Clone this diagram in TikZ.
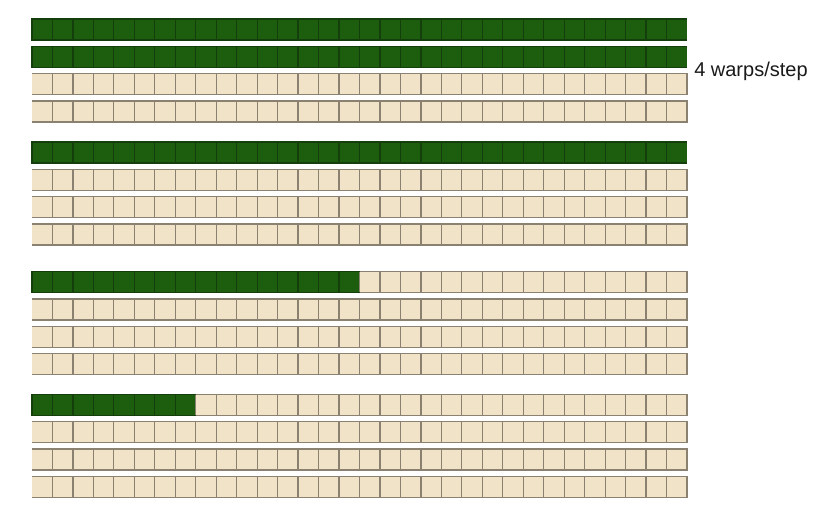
\documentclass[tikz,border=0pt]{standalone}
\usepackage{fontspec}
\setmainfont{Liberation Sans}
\definecolor{cellgreen}{HTML}{1C5E0E}
\definecolor{greenline}{HTML}{143F0C}
\definecolor{cellbeige}{HTML}{F1E3C7}
\definecolor{beigeline}{HTML}{8A8171}
\definecolor{labeltext}{HTML}{1A1A1A}
\begin{document}
\begin{tikzpicture}[x=0.75pt,y=-0.75pt,
  greenfill/.style={fill=cellgreen},
  beigefill/.style={fill=cellbeige},
  greenedge/.style={draw=greenline, line width=0.9pt},
  beigeedge/.style={draw=beigeline, line width=0.9pt},
  labelstyle/.style={anchor=west, text=labeltext, inner sep=0pt, font=\fontsize{15}{18}\selectfont}]
\useasboundingbox (0,0) rectangle (833,519);
\fill[white] (0,0) rectangle (833,519);
\foreach \ry/\ng in {19/32, 46.3/32, 73.6/0, 100.9/0,
                     142/32, 169.3/0, 196.6/0, 223.9/0,
                     271.6/16, 298.9/0, 326.2/0, 353.5/0,
                     394.3/8, 421.6/0, 448.9/0, 476.2/0}{
  \pgfmathsetmacro\yb{\ry+21}
  \pgfmathsetmacro\xg{32+\ng*20.469}
  % fills
  \fill[beigefill] (32,\ry) rectangle (687,\yb);
  \ifnum\ng>0
    \fill[greenfill] (32,\ry) rectangle (\xg,\yb);
  \fi
  % inner vertical lines
  \foreach \i in {1,...,31}{
    \pgfmathsetmacro\xa{32+\i*20.469}
    \ifnum\i<\ng
      \draw[greenedge] (\xa,\ry) -- (\xa,\yb);
    \else
      \draw[beigeedge] (\xa,\ry) -- (\xa,\yb);
    \fi
  }
  % outer edges
  \ifnum\ng>0
    \draw[greenedge] (\xg,\ry) -- (32,\ry) -- (32,\yb) -- (\xg,\yb);
  \fi
  \ifnum\ng<32
    \draw[beigeedge] (\xg,\ry) -- (687,\ry) -- (687,\yb) -- (\xg,\yb);
  \fi
}
\node[labelstyle] (label) at (694,71) {4 warps/step};
\end{tikzpicture}
\end{document}
